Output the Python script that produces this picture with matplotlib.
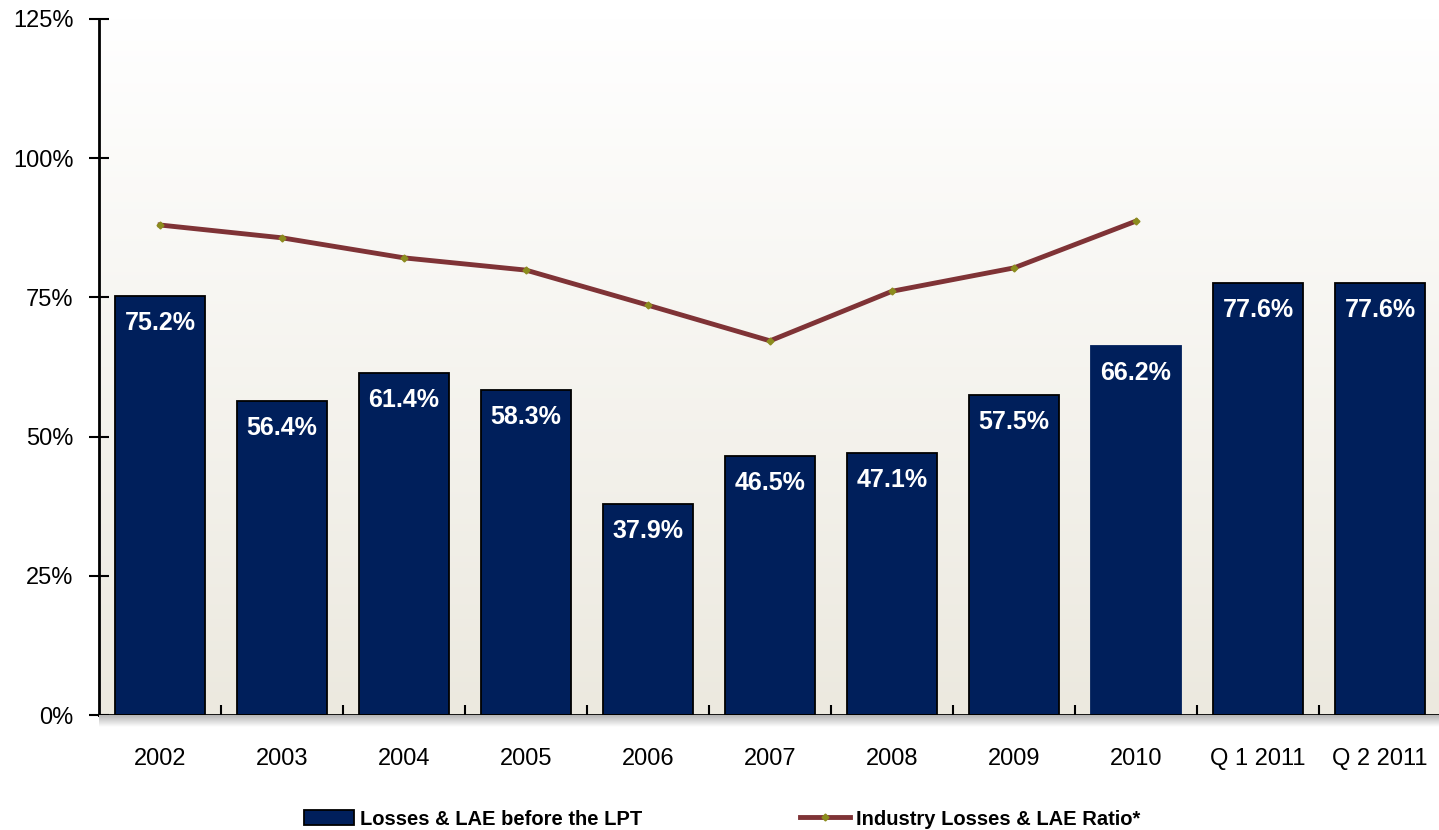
import numpy as np
import matplotlib
matplotlib.use("Agg")
import matplotlib.pyplot as plt
from matplotlib.lines import Line2D
from matplotlib.patches import Patch
from matplotlib.colors import LinearSegmentedColormap

categories = ["2002", "2003", "2004", "2005", "2006", "2007", "2008", "2009",
              "2010", "Q 1 2011", "Q 2 2011"]
losses_before_lpt = [75.2, 56.4, 61.4, 58.3, 37.9, 46.5, 47.1, 57.5, 66.2, 77.6, 77.6]
industry_ratio = [88.0, 85.7, 82.1, 79.9, 73.6, 67.2, 76.1, 80.3, 88.7]
y_ticks = [0, 25, 50, 75, 100, 125]

BAR_COLOR = "#001F5B"
LINE_COLOR = "#7F3336"
MARKER_COLOR = "#8C8C1E"

plt.rcParams["font.family"] = ["Liberation Sans", "DejaVu Sans"]

fig = plt.figure(figsize=(14.39, 8.30), dpi=100)
fig.patch.set_facecolor("white")

left, bottom = 99 / 1439, 115 / 830
width, height = 1342 / 1439, 696 / 830
ax = fig.add_axes([left, bottom, width, height])

# soft shadow under the category axis
shadow = fig.add_axes([left, bottom - 12 / 830, width, 12 / 830])
shade = LinearSegmentedColormap.from_list("shade", ["#B5B5B5", "#FFFFFF"])
shadow.imshow(np.linspace(0, 1, 64).reshape(-1, 1), aspect="auto", cmap=shade,
              extent=[0, 1, 0, 1])
shadow.set_axis_off()

x = np.arange(len(categories))
ax.set_xlim(-0.5, len(categories) - 0.5)
ax.set_ylim(0, 125)

# vertical gradient in the plot area
grad = LinearSegmentedColormap.from_list("bg", ["#ECE9DF", "#FFFFFF"])
ax.imshow(np.linspace(0, 1, 256).reshape(-1, 1), aspect="auto", cmap=grad,
          origin="lower", extent=[-0.5, len(categories) - 0.5, 0, 125], zorder=0)

edges = ["black"] * len(categories)
edges[8] = BAR_COLOR
bars = ax.bar(x, losses_before_lpt, width=0.73, color=BAR_COLOR,
              edgecolor=edges, linewidth=1.3, zorder=2)

for xi, v in zip(x, losses_before_lpt):
    ax.annotate(f"{v:.1f}%", xy=(xi, v), xytext=(0, -27), textcoords="offset pixels",
                ha="center", va="center", color="white", fontsize=18,
                fontweight="bold", zorder=4)

ax.plot(x[:len(industry_ratio)], industry_ratio, color=LINE_COLOR, linewidth=3.5,
        marker="D", markersize=3.5, markerfacecolor=MARKER_COLOR,
        markeredgecolor=MARKER_COLOR, zorder=3)

ax.set_yticks(y_ticks)
ax.set_yticklabels([f"{t}%" for t in y_ticks])
ax.set_xticks(x)
ax.set_xticklabels(categories)
ax.set_xticks(np.arange(0.5, len(categories) - 0.5, 1), minor=True)

ax.tick_params(axis="y", direction="inout", length=15, width=1.5,
               labelsize=17, pad=11)
ax.tick_params(axis="x", which="major", length=0, labelsize=17, pad=24)
ax.tick_params(axis="x", which="minor", direction="inout", length=15, width=1.5)

for side in ("top", "right"):
    ax.spines[side].set_visible(False)
for side in ("left", "bottom"):
    ax.spines[side].set_linewidth(2)
    ax.spines[side].set_zorder(5)

handles = [
    Patch(facecolor=BAR_COLOR, edgecolor="black", linewidth=1.3),
    Line2D([], [], color=LINE_COLOR, linewidth=3.5, marker="D", markersize=3.5,
           markerfacecolor=MARKER_COLOR, markeredgecolor=MARKER_COLOR),
]
labels = ["Losses & LAE before the LPT", "Industry Losses & LAE Ratio*"]
fig.legend(handles, labels, loc="center", bbox_to_anchor=(722 / 1439, 11 / 830),
           ncol=2, frameon=False, handlelength=2.5, handleheight=0.7,
           handletextpad=0.3, columnspacing=7.8,
           prop={"family": ["Liberation Sans Narrow", "Liberation Sans"],
                 "weight": "bold", "size": 14.5})

fig.savefig("out.png", dpi=100)
